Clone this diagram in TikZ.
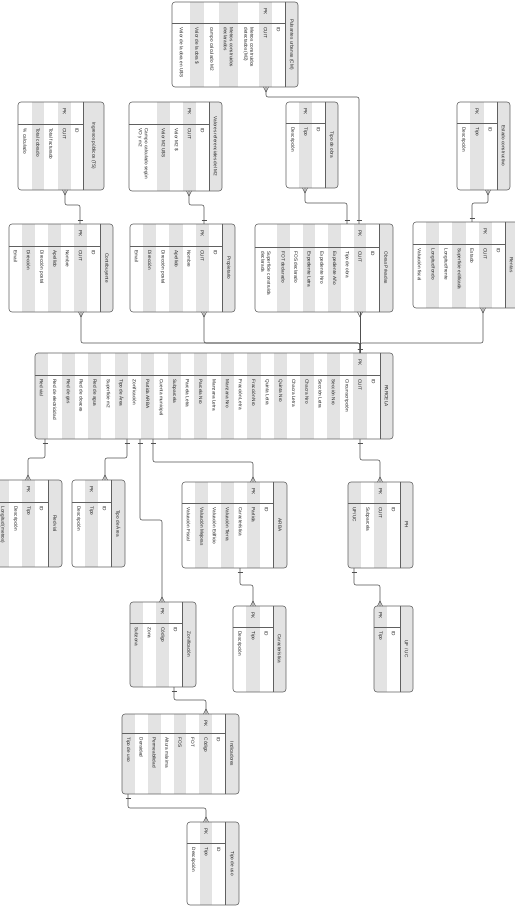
\documentclass[tikz,border=0pt]{standalone}
\usepackage{fontspec}
\setmainfont{Liberation Sans}
\usetikzlibrary{fit,decorations.markings}

\definecolor{rowgray}{HTML}{E3E3E3}
\definecolor{framegray}{HTML}{606060}
\definecolor{txtgray}{HTML}{222222}
\definecolor{linkgray}{HTML}{505050}

% #1 name, #2 left, #3 title left, #4 right, #5 top, #6 bottom, #7 key line, #8 title, #9 fields
\newcommand{\ertable}[9]{%
  \begin{scope}
    \clip[rounded corners=3pt] (#2,#5) rectangle (#4,#6);
    \fill[rowgray] (#3,#5) rectangle (#4,#6);
    \xdef\curx{#3}
    \foreach \txt/\w [count=\i] in {#9} {
      \pgfmathsetmacro\nx{\curx-\w}
      \ifodd\i\relax\else\fill[rowgray] (\nx,#5) rectangle (\curx,#6);\fi
      \node[fld, anchor=west] at ({\nx+\w/2},{#7+4}) {\txt};
      \ifnum\i=2\relax\node[fld, anchor=west] at ({\nx+\w/2},{#5+6}) {PK};\fi
      \xdef\curx{\nx}
    }
  \end{scope}
  \node[tblbox, fit={(#2,#5) (#4,#6)}] (#1) {};
  \draw[tblline] (#3,#5) -- (#3,#6);
  \draw[tblline] (#2,#7) -- (#3,#7);
  \node[fld] (#1-title) at ({(#3+#4)/2},{(#5+#6)/2}) {#8};
}

\begin{document}
\begin{tikzpicture}[x=1pt, y=-1pt,
    tblbox/.style={draw=framegray, line width=0.6pt, rounded corners=3pt, inner sep=0pt, outer sep=0pt},
    tblline/.style={draw=framegray, line width=0.6pt},
    fld/.style={rotate=-90, font=\fontsize{4.7}{6}\selectfont, text=txtgray, inner sep=0.4pt, align=left},
    link/.style={draw=linkgray, line width=0.6pt, rounded corners=2pt},
    manystart/.style={postaction={decorate, decoration={markings, mark=at position 0 with {\draw[linkgray, line width=0.5pt] (5pt,0pt) -- (0pt,2.5pt) (5pt,0pt) -- (0pt,-2.5pt);}}}},
    manyend/.style={postaction={decorate, decoration={markings, mark=at position 1 with {\draw[linkgray, line width=0.5pt] (-5pt,0pt) -- (0pt,2.5pt) (-5pt,0pt) -- (0pt,-2.5pt);}}}},
    onestart/.style={postaction={decorate, decoration={markings, mark=at position 0 with {\draw[linkgray, line width=0.5pt] (4pt,-2.5pt) -- (4pt,2.5pt);}}}},
    oneend/.style={postaction={decorate, decoration={markings, mark=at position 1 with {\draw[linkgray, line width=0.5pt] (-4pt,-2.5pt) -- (-4pt,2.5pt);}}}},
  ]
  \useasboundingbox[fill=white] (0,0) rectangle (514,909);

  % top row
  \ertable{puls}{172}{285}{298}{2}{87}{23}{Pulsantes urbanas (CM)}
    {ID/13, CUIT/13, {Metros construidos\\detectados (M2)}/21, {Metros construidos\\declarados}/19, campo calculado M2/15, Valor de la obra \$/14, Valor de la obra en U\$S/17}
  \ertable{ingr}{18}{83}{104}{102}{190}{124}{Ingresos públicos (TS)}
    {ID/12, CUIT/13, Total facturado/14, Total cobrado/12, \% calculado/14}
  \ertable{valm}{129}{209}{222}{102}{191}{124}{Valores referenciales del M2}
    {ID/13, CUIT/13, Valor M2 \$/13, Valor M2 U\$S/13, {Campo calculado según\\VO y m2}/28}
  \ertable{tobra}{286}{325}{338}{102}{188}{123}{Tipo de obra}
    {ID/13, Tipo/13, Descripción/13}
  \ertable{estado}{457}{497}{510}{102}{190}{123}{Estado constructivo}
    {ID/13.33, Tipo/13.33, Descripción/13.33}

  % second row
  \ertable{contr}{9}{100}{113}{224}{312}{246}{Contribuyente}
    {ID/13, CUIT/13, Nombre/13, Apellido/13, Dirección postal/13, Dirección/13, Email/13}
  \ertable{prop}{130}{222}{235}{224}{312}{246}{Propietario}
    {ID/13.14, CUIT/13.14, Nombre/13.14, Apellido/13.14, Dirección postal/13.14, Dirección/13.14, Email/13.14}
  \ertable{obras}{255}{379}{393}{224}{312}{247}{Obras Privadas}
    {ID/12.75, CUIT/12.75, Tipo de obra/12.75, Expediente Año/12.75, Expediente Nro/12.75, Expediente Letra/12.75, FOS declarado/12.75, FOT declarado/12.75, {Superficie construida\\declarada}/22}
  \ertable{rentas}{413}{505}{518}{222}{308}{244}{Rentas}
    {ID/13.14, CUIT/13.14, Estado/13.14, Superficie edificada/13.14, Longitud frente/13.14, Longitud fondo/13.14, Valuación fiscal/13.14}

  % parcela
  \ertable{parc}{35}{380}{393}{353}{439}{375}{PARCELA}
    {ID/13.27, CUIT/13.27, Circunscripción/13.27, Sección Nro/13.27, Sección Letra/13.27, Chacra Nro/13.27, Chacra Letra/13.27, Quinta Nro/13.27, Quinta Letra/13.27, Fracción Nro/13.27, Fracción Letra/13.27, Manzana Nro/13.27, Manzana Letra/13.27, Parcela Nro/13.27, Parcela Letra/13.27, Subparcela/13.27, Cuenta municipal/13.27, Partida ARBA/13.27, Zonificación/13.27, Tipo de Área/13.27, Superficie m2/13.27, Red de agua/13.27, Red de cloacas/13.27, Red de gas/13.27, Red de electricidad/13.27, Red vial/13.27}

  % lower rows
  \ertable{rvial}{-4}{48}{62}{480}{567}{502}{Red vial}
    {ID/13, Tipo/13, Descripción/13, Longitud (metros)/13}
  \ertable{tarea}{72}{111}{125}{480}{567}{502}{Tipo de Área}
    {ID/13, Tipo/13, Descripción/13}
  \ertable{arba}{182}{273}{287}{482}{568}{503}{ARBA}
    {ID/13, Partida/13, Característica/13, Valuación Tierra/13, Valuación Edificio/13, Valuación Mejoras/13, Valuación Fiscal/13}
  \ertable{ph}{348}{400}{413}{482}{568}{503}{PH}
    {ID/13, CUIT/13, Subparcela/13, {UF/UC}/13}
  \ertable{zonif}{130}{182}{196}{602}{687}{623}{Zonificación}
    {ID/13, Código/13, Zona/13, Subzona/13}
  \ertable{carac}{233}{273}{286}{606}{692}{627}{Característica}
    {ID/13.33, Tipo/13.33, Descripción/13.33}
  \ertable{ufuc}{374}{400}{413}{606}{692}{627}{UF / UC}
    {ID/13, Tipo/13}
  \ertable{indic}{122}{225}{239}{714}{794}{733}{Indicadores}
    {ID/12.875, Código/12.875, FOT/12.875, FOS/12.875, Altura máxima/12.875, Permeabilidad/12.875, Densidad/12.875, Tipo de uso/12.875}
  \ertable{tuso}{187}{225}{239}{822}{905}{843}{Tipo de uso}
    {ID/12.67, Tipo/12.67, Descripción/12.67}

  % relations
  \draw[link, manystart, oneend] ([xshift=94pt]puls.south west) -- ++(0,10) -| ([xshift=104pt]obras.north west);
  \draw[link, manystart, oneend] ([xshift=47pt]ingr.south west) -- ++(0,15) -| ([xshift=71pt]contr.north west);
  \draw[link, manystart, oneend] ([xshift=60pt]valm.south west) -- ++(0,14) -| ([xshift=74pt]prop.north west);
  \draw[link, manystart, oneend] ([xshift=19pt]tobra.south west) -- ++(0,15) -| ([xshift=92pt]obras.north west);
  \draw[link, manystart, oneend] ([xshift=31pt]estado.south west) -- ++(0,13) -| ([xshift=59pt]rentas.north west);
  \draw[link, manystart, oneend] ([xshift=72pt]contr.south west) -- ++(0,31) -| ([xshift=325pt]parc.north west);
  \draw[link, manystart, oneend] ([xshift=74pt]prop.south west) -- ++(0,31) -| ([xshift=325pt]parc.north west);
  \draw[link, manystart, oneend] ([xshift=105pt]obras.south west) -- ([xshift=325pt]parc.north west);
  \draw[link, manystart, oneend] ([xshift=70pt]rentas.south west) -- ++(0,35) -| ([xshift=325pt]parc.north west);
  \draw[link, onestart, manyend] ([xshift=10pt]parc.south west) -- ++(0,19) -| ([xshift=32pt]rvial.north west);
  \draw[link, onestart, manyend] ([xshift=92pt]parc.south west) -- ++(0,19) -| ([xshift=33pt]tarea.north west);
  \draw[link, onestart, manyend] ([xshift=105pt]parc.south west) -- ++(0,81) -| ([xshift=32pt]zonif.north west);
  \draw[link, onestart, manyend] ([xshift=118pt]parc.south west) -- ++(0,23) -| ([xshift=71pt]arba.north west);
  \draw[link, onestart, manyend] ([xshift=325pt]parc.south west) -- ++(0,21) -| ([xshift=32pt]ph.north west);
  \draw[link, onestart, manyend] ([xshift=58pt]arba.south west) -- ++(0,17) -| ([xshift=20pt]carac.north west);
  \draw[link, onestart, manyend] ([xshift=6pt]ph.south west) -- ++(0,17) -| ([xshift=6pt]ufuc.north west);
  \draw[link, onestart, manyend] ([xshift=44pt]zonif.south west) -- ++(0,13) -| ([xshift=84pt]indic.north west);
  \draw[link, onestart, manyend] ([xshift=6pt]indic.south west) -- ++(0,14) -| ([xshift=19pt]tuso.north west);
\end{tikzpicture}
\end{document}
